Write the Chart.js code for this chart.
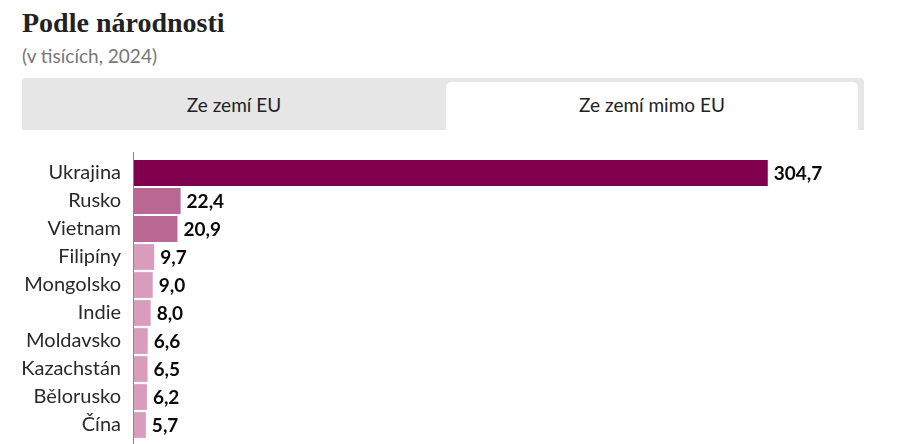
<!DOCTYPE html>
<html lang="cs">
<head>
<meta charset="utf-8">
<script src="https://cdn.jsdelivr.net/npm/chart.js@4/dist/chart.umd.min.js"></script>
<style>
  html, body { margin: 0; padding: 0; background: #fff; overflow: hidden; }
  body { width: 910px; height: 444px; position: relative; font-family: Lato, "Open Sans", sans-serif; }
  .title { position: absolute; left: 22px; top: 7px; font-family: "Liberation Serif", "DejaVu Serif", serif; font-weight: bold; font-size: 28px; color: #222; }
  .sub { position: absolute; left: 22px; top: 44px; font-size: 19px; color: #777; }
  .tabs { position: absolute; left: 22px; top: 78px; width: 842px; height: 52px; background: #e6e6e6; border-radius: 4px 4px 0 0; }
  .tab { position: absolute; top: 0; height: 52px; line-height: 54px; text-align: center; font-size: 19px; color: #222; }
  .tab.left { left: 0; width: 424px; }
  .tab.right { left: 424px; top: 4px; width: 412px; height: 48px; line-height: 46px; background: #fff; border-radius: 5px 5px 0 0; }
  .wrap { position: absolute; left: 0; top: 134px; width: 910px; height: 330px; }
</style>
</head>
<body>
<div class="title">Podle národnosti</div>
<div class="sub">(v tisících, 2024)</div>
<div class="tabs">
  <div class="tab left">Ze zemí EU</div>
  <div class="tab right">Ze zemí mimo EU</div>
</div>
<div class="wrap"><canvas id="chart"></canvas></div>
<script>
// ------------------ Data ------------------
const countries = ["Ukrajina", "Rusko", "Vietnam", "Filipíny", "Mongolsko", "Indie", "Moldavsko", "Kazachstán", "Bělorusko", "Čína"];
const values = [304.7, 22.4, 20.9, 9.7, 9.0, 8.0, 6.6, 6.5, 6.2, 5.7];
const barColors = ["#80004e", "#b86892", "#b86892", "#d89cbc", "#d89cbc", "#d89cbc", "#d89cbc", "#d89cbc", "#d89cbc", "#d89cbc"];
const xMax = 350;

const fmt = v => v.toFixed(1).replace(".", ",");

// value labels at the end of each bar
const valueLabels = {
  id: "valueLabels",
  afterDatasetsDraw(chart) {
    const ctx = chart.ctx;
    const meta = chart.getDatasetMeta(0);
    ctx.save();
    ctx.font = "bold 19px Lato, sans-serif";
    ctx.fillStyle = "#0a0a0a";
    ctx.textBaseline = "middle";
    ctx.textAlign = "left";
    meta.data.forEach((bar, i) => {
      ctx.fillText(fmt(values[i]), bar.x + 6, bar.y + 1);
    });
    ctx.restore();
  }
};

// axis line from just above the first bar down past the bottom
const axisLine = {
  id: "axisLine",
  afterDraw(chart) {
    const ctx = chart.ctx;
    const x = Math.round(chart.chartArea.left) - 0.5;
    ctx.save();
    ctx.strokeStyle = "#8a8a8a";
    ctx.lineWidth = 1;
    ctx.beginPath();
    ctx.moveTo(x, chart.chartArea.top - 7);
    ctx.lineTo(x, chart.height);
    ctx.stroke();
    ctx.restore();
  }
};

new Chart(document.getElementById("chart"), {
  type: "bar",
  data: {
    labels: countries,
    datasets: [{
      data: values,
      backgroundColor: barColors,
      borderWidth: 0,
      barPercentage: 0.92,
      categoryPercentage: 1
    }]
  },
  options: {
    indexAxis: "y",
    responsive: true,
    maintainAspectRatio: false,
    animation: false,
    layout: { padding: { top: 7, bottom: 7, left: 0, right: 48 } },
    plugins: { legend: { display: false }, tooltip: { enabled: false } },
    scales: {
      x: {
        min: 0, max: xMax,
        display: false
      },
      y: {
        grid: { display: false, drawTicks: false },
        border: { display: false },
        ticks: { color: "#2a2a2a", font: { size: 20, family: "Lato, sans-serif" }, padding: 13 },
        afterFit(scale) { scale.width = 134; }
      }
    }
  },
  plugins: [valueLabels, axisLine]
});
</script>
</body>
</html>
